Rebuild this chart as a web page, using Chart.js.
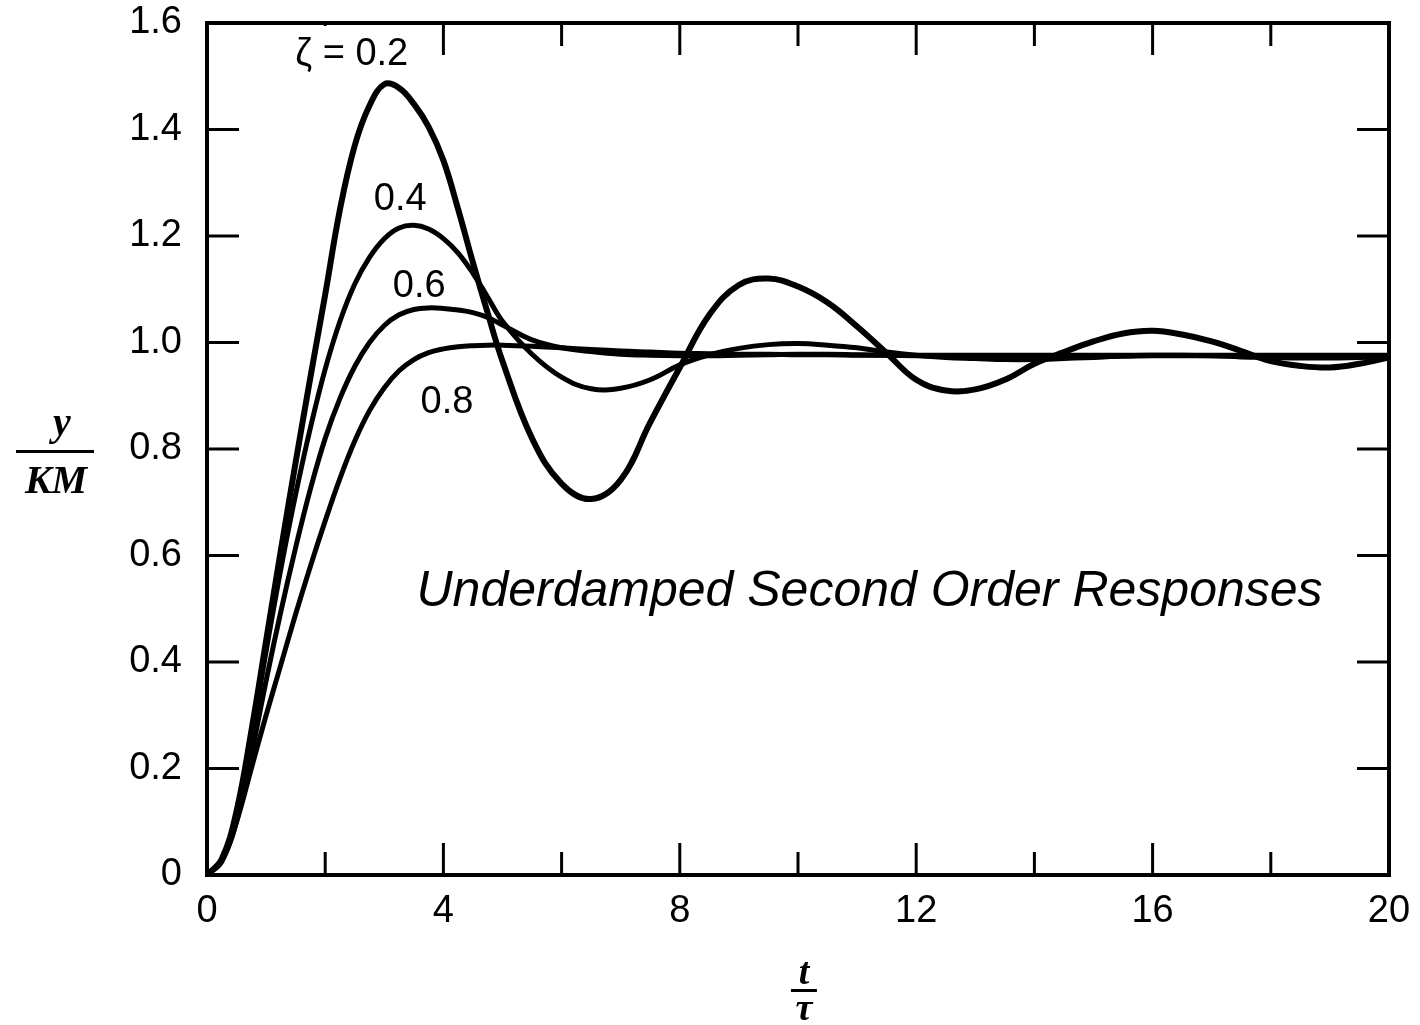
<!DOCTYPE html>
<html><head><meta charset="utf-8">
<script src="https://cdn.jsdelivr.net/npm/chart.js@4.4.0/dist/chart.umd.min.js"></script>
<style>html,body{margin:0;padding:0;background:#fff;} #wrap{width:1420px;height:1025px;}</style>
</head><body><div id="wrap"><canvas id="c" width="1420" height="1025"></canvas></div>
<script>
// time axis t/τ
const tValues = [0,0.25,0.5,0.75,1,1.25,1.5,1.75,2,2.25,2.5,2.75,3,3.25,3.5,3.75,4,4.25,4.5,4.75,5,
  5.5,6,6.5,7,7.5,8,8.5,9,9.5,10,10.5,11,11.5,12,12.5,13,13.5,14,14.5,15,15.5,16,16.5,17,17.5,18,18.5,19,19.5,20];
// y/KM for each damping ratio
const zeta02 = [0,0.03,0.12,0.27,0.44,0.61,0.775,0.935,1.09,1.25,1.37,1.445,1.485,1.478,1.448,1.405,1.342,1.25,1.15,1.055,0.965,
  0.82,0.735,0.706,0.742,0.85,0.953,1.052,1.108,1.12,1.105,1.075,1.03,0.98,0.93,0.91,0.912,0.93,0.96,0.982,1.002,1.017,1.022,1.015,1.002,0.984,0.965,0.956,0.953,0.96,0.972];
const zeta04 = [0,0.03,0.11,0.255,0.42,0.575,0.715,0.84,0.95,1.04,1.11,1.16,1.195,1.215,1.22,1.213,1.195,1.168,1.13,1.085,1.04,
  0.978,0.935,0.913,0.914,0.93,0.958,0.977,0.989,0.996,0.998,0.995,0.99,0.982,0.976,0.972,0.97,0.968,0.968,0.97,0.972,0.975,0.976,0.976,0.975,0.973,0.972,0.971,0.971,0.972,0.973];
const zeta06 = [0,0.028,0.1,0.225,0.365,0.495,0.615,0.725,0.82,0.895,0.955,1.0,1.032,1.052,1.062,1.065,1.064,1.061,1.056,1.047,1.033,
  1.005,0.99,0.983,0.978,0.976,0.975,0.975,0.976,0.977,0.978,0.978,0.977,0.976,0.975,0.974,0.974,0.974,0.974,0.974,0.974,0.974,0.975,0.975,0.975,0.975,0.975,0.975,0.975,0.975,0.975];
const zeta08 = [0,0.025,0.1,0.2,0.3,0.395,0.49,0.58,0.665,0.745,0.815,0.872,0.915,0.947,0.968,0.981,0.988,0.992,0.994,0.995,0.995,
  0.993,0.99,0.987,0.984,0.982,0.98,0.979,0.978,0.978,0.977,0.977,0.976,0.976,0.976,0.976,0.976,0.976,0.976,0.976,0.976,0.976,0.976,0.976,0.976,0.976,0.976,0.976,0.976,0.976,0.976];
const curveLabels = ['ζ = 0.2','0.4','0.6','0.8'];
const chartTitle = 'Underdamped Second Order Responses';
const yTitleTop = 'y', yTitleBottom = 'KM';
const xTitleTop = 't', xTitleBottom = 'τ';

const SANS = '"Liberation Sans", Arial, sans-serif';
const SERIF = '"Liberation Serif", "DejaVu Serif", serif';

const series = [zeta02, zeta04, zeta06, zeta08];
const datasets = series.map((arr, k) => ({
  label: curveLabels[k],
  data: tValues.map((t, i) => ({x: t, y: arr[i]})),
  borderColor: '#000',
  borderWidth: k === 0 ? 6 : 5,
  pointRadius: 0,
  tension: 0.4,
  fill: false
}));

const framePlugin = {
  id: 'frame',
  afterDatasetsDraw(chart) {
    const {ctx, chartArea: a, scales: {x, y}} = chart;
    ctx.save();
    ctx.strokeStyle = '#000';
    ctx.lineWidth = 4;
    ctx.strokeRect(a.left, a.top, a.right - a.left, a.bottom - a.top);
    ctx.lineWidth = 3;
    ctx.beginPath();
    x.ticks.forEach(tk => {
      const v = tk.value;
      if (v <= x.min || v >= x.max) return;
      const px = x.getPixelForValue(v);
      const len = (v % 4 === 0) ? 32 : 23;
      ctx.moveTo(px, a.bottom); ctx.lineTo(px, a.bottom - len);
      ctx.moveTo(px, a.top); ctx.lineTo(px, a.top + len);
    });
    y.ticks.forEach(tk => {
      const v = tk.value;
      if (v <= y.min + 1e-9 || v >= y.max - 1e-9) return;
      const py = y.getPixelForValue(v);
      ctx.moveTo(a.left, py); ctx.lineTo(a.left + 32, py);
      ctx.moveTo(a.right, py); ctx.lineTo(a.right - 32, py);
    });
    ctx.stroke();
    ctx.restore();
  }
};

const notesPlugin = {
  id: 'notes',
  afterDraw(chart) {
    const {ctx, chartArea: a, scales: {x, y}} = chart;
    ctx.save();
    ctx.fillStyle = '#000';
    ctx.textAlign = 'center';
    ctx.textBaseline = 'alphabetic';
    ctx.font = '38px ' + SANS;
    const spots = [[2.45, 1.522], [3.27, 1.249], [3.59, 1.085], [4.06, 0.868]];
    curveLabels.forEach((s, k) => {
      const px = x.getPixelForValue(spots[k][0]);
      const py = y.getPixelForValue(spots[k][1]);
      if (k === 0) {
        const w = ctx.measureText(s).width;
        ctx.fillStyle = '#fff';
        ctx.fillRect(px - w / 2 - 4, a.top + 3, w + 8, py - a.top);
        ctx.fillStyle = '#000';
      }
      ctx.fillText(s, px, py);
    });
    ctx.font = 'italic 50px ' + SANS;
    ctx.fillText(chartTitle, x.getPixelForValue(11.21), y.getPixelForValue(0.505));
    // y axis title as fraction
    const yc = y.getPixelForValue(0.8);
    const yx = a.left - 153;
    ctx.font = 'italic bold 40px ' + SERIF;
    ctx.fillText(yTitleTop, yx + 8, yc - 14);
    ctx.fillRect(yx - 38, yc + 1, 78, 3);
    ctx.fillText(yTitleBottom, yx + 2, yc + 44);
    // x axis title as fraction
    const xc = x.getPixelForValue(10.1);
    ctx.font = 'italic bold 38px ' + SERIF;
    ctx.fillText(xTitleTop, xc, a.bottom + 109);
    ctx.fillRect(xc - 13, a.bottom + 114, 26, 3);
    ctx.fillText(xTitleBottom, xc, a.bottom + 145);
    ctx.restore();
  }
};

new Chart(document.getElementById('c'), {
  type: 'line',
  data: {datasets},
  options: {
    responsive: false,
    animation: false,
    devicePixelRatio: 1,
    layout: {padding: {top: 23, right: 31, left: 0, bottom: 0}},
    plugins: {legend: {display: false}, tooltip: {enabled: false}, title: {display: false}},
    scales: {
      x: {
        type: 'linear', min: 0, max: 20,
        grid: {display: false, drawTicks: false}, border: {display: false},
        ticks: {stepSize: 2, autoSkip: false, maxRotation: 0, padding: 14, color: '#000',
          font: {family: SANS, size: 38},
          callback: v => (v % 4 === 0 ? String(v) : '')},
        afterFit: s => { s.height = 150; s.paddingLeft = 0; s.paddingRight = 0; }
      },
      y: {
        type: 'linear', min: 0, max: 1.6,
        grid: {display: false, drawTicks: false}, border: {display: false},
        ticks: {stepSize: 0.2, autoSkip: false, padding: 25, color: '#000',
          font: {family: SANS, size: 38},
          callback: v => (Math.abs(v) < 1e-9 ? '0' : Number(v).toFixed(1))},
        afterFit: s => { s.width = 207; s.paddingTop = 0; s.paddingBottom = 0; }
      }
    }
  },
  plugins: [framePlugin, notesPlugin]
});
</script>
</body></html>
